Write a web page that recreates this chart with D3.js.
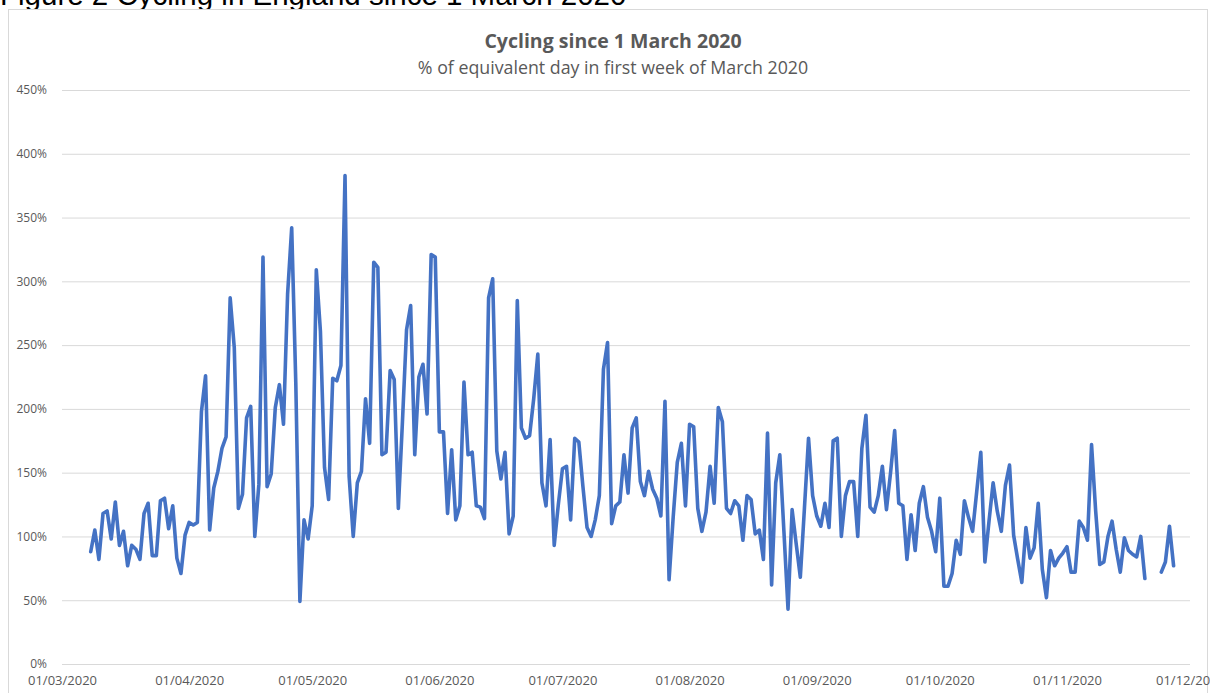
<!DOCTYPE html>
<html>
<head>
<meta charset="utf-8">
<script src="https://cdn.jsdelivr.net/npm/d3@7"></script>
<style>
  body { margin: 0; background: #fff; }
  svg text { font-family: "Open Sans", sans-serif; }
</style>
</head>
<body>
<div id="canvas"></div>
<script>
// daily series, % of equivalent day in first week of March 2020
var firstDay = "2020-03-08";
var cycling = [
    88, 105, 82, 118, 120, 98, 127,
    93, 104, 77, 93, 90, 82, 118,
    126, 85, 85, 128, 130, 106, 124,
    83, 71, 101, 111, 109, 111, 198,
    226, 105, 138, 151, 169, 178, 287,
    248, 122, 133, 193, 202, 100, 141,
    319, 139, 149, 201, 219, 188, 290,
    342, 220, 49, 113, 98, 124, 309,
    261, 154, 129, 224, 222, 234, 383,
    147, 100, 142, 151, 208, 173, 315,
    311, 164, 166, 230, 223, 122, 190,
    262, 281, 164, 225, 235, 196, 321,
    319, 182, 182, 118, 168, 113, 124,
    221, 164, 166, 124, 123, 114, 287,
    302, 167, 145, 166, 102, 116, 285,
    185, 177, 179, 208, 243, 142, 124,
    176, 93, 125, 153, 155, 113, 177,
    174, 139, 107, 100, 113, 132, 231,
    252, 110, 124, 127, 164, 134, 185,
    193, 143, 132, 151, 137, 130, 116,
    206, 66, 115, 158, 173, 124, 188,
    186, 122, 104, 119, 155, 126, 201,
    190, 122, 118, 128, 124, 97, 132,
    129, 102, 105, 82, 181, 62, 142,
    164, 104, 43, 121, 94, 68, 122,
    177, 132, 116, 108, 126, 107, 175,
    177, 100, 132, 143, 143, 100, 169,
    195, 123, 119, 132, 155, 121, 150,
    183, 126, 124, 82, 117, 89, 126,
    139, 115, 104, 88, 130, 61, 61,
    71, 97, 86, 128, 115, 104, 135,
    166, 80, 112, 142, 120, 104, 140,
    156, 101, 82, 64, 107, 83, 91,
    126, 74, 52, 89, 77, 83, 87,
    92, 72, 72, 112, 107, 97, 172,
    120, 78, 80, 100, 112, 90, 72,
    99, 89, 86, 84, 100, 67, null,
    null, null, 72, 80, 108, 77
];
var yTicks = [0, 50, 100, 150, 200, 250, 300, 350, 400, 450];
var xTicks = ["2020-03-01", "2020-04-01", "2020-05-01", "2020-06-01", "2020-07-01",
              "2020-08-01", "2020-09-01", "2020-10-01", "2020-11-01", "2020-12-01"];

var pageTitle = "Figure 2 Cycling in England since 1 March 2020";
var chartTitle = "Cycling since 1 March 2020";
var chartSubtitle = "% of equivalent day in first week of March 2020";

var width = 1210, height = 693;
var plotLeft = 62, plotRight = 1190, plotTop = 90, plotBottom = 664;
var textGrey = "#595959", gridGrey = "#d9d9d9", lineBlue = "#4472C4";

var parse = d3.utcParse("%Y-%m-%d");
var start = parse(firstDay);
var data = cycling.map(function(v, i) {
    return { date: d3.utcDay.offset(start, i), value: v };
});

var svg = d3.select("#canvas").append("svg").attr("width", width).attr("height", height);

// page heading, partly cut off at the top
svg.append("text")
    .attr("x", 0)
    .attr("y", 5)
    .style("font-family", "'Liberation Sans', Arial, sans-serif")
    .style("font-size", "29.5px")
    .style("fill", "#000")
    .text(pageTitle);

// chart frame
svg.append("rect")
    .attr("x", 8.5).attr("y", 9.5)
    .attr("width", 1199).attr("height", 700)
    .attr("fill", "#fff")
    .attr("stroke", gridGrey);

var x = d3.scaleUtc()
    .domain([parse(xTicks[0]), parse(xTicks[xTicks.length - 1])])
    .range([plotLeft, plotRight]);
var y = d3.scaleLinear().domain([0, 450]).range([plotBottom, plotTop]);

// gridlines + y labels
var yAxis = svg.append("g")
    .attr("transform", "translate(" + plotLeft + ",0)")
    .call(d3.axisLeft(y).tickValues(yTicks)
        .tickSize(-(plotRight - plotLeft)).tickPadding(15)
        .tickFormat(function(d) { return d + "%"; }));
yAxis.select(".domain").remove();
yAxis.selectAll("line").attr("stroke", gridGrey);
yAxis.selectAll("text").style("fill", textGrey).style("font-size", "12px");

// x labels
var xAxis = svg.append("g")
    .attr("transform", "translate(0," + plotBottom + ")")
    .call(d3.axisBottom(x).tickValues(xTicks.map(parse))
        .tickSize(0).tickPadding(12)
        .tickFormat(d3.utcFormat("%d/%m/%Y")));
xAxis.select(".domain").remove();
xAxis.selectAll("text").style("fill", textGrey).style("font-size", "13px");

var line = d3.line()
    .defined(function(d) { return d.value != null; })
    .x(function(d) { return x(d.date); })
    .y(function(d) { return y(d.value); });

svg.append("path")
    .datum(data)
    .attr("d", line)
    .attr("fill", "none")
    .attr("stroke", lineBlue)
    .attr("stroke-width", 3.6)
    .attr("stroke-linejoin", "round")
    .attr("stroke-linecap", "round");

// titles
svg.append("text")
    .attr("x", 613).attr("y", 48)
    .attr("text-anchor", "middle")
    .style("font-size", "19.5px")
    .style("font-weight", "bold")
    .style("fill", textGrey)
    .text(chartTitle);

svg.append("text")
    .attr("x", 613).attr("y", 74)
    .attr("text-anchor", "middle")
    .style("font-size", "17.8px")
    .style("fill", textGrey)
    .text(chartSubtitle);
</script>
</body>
</html>
